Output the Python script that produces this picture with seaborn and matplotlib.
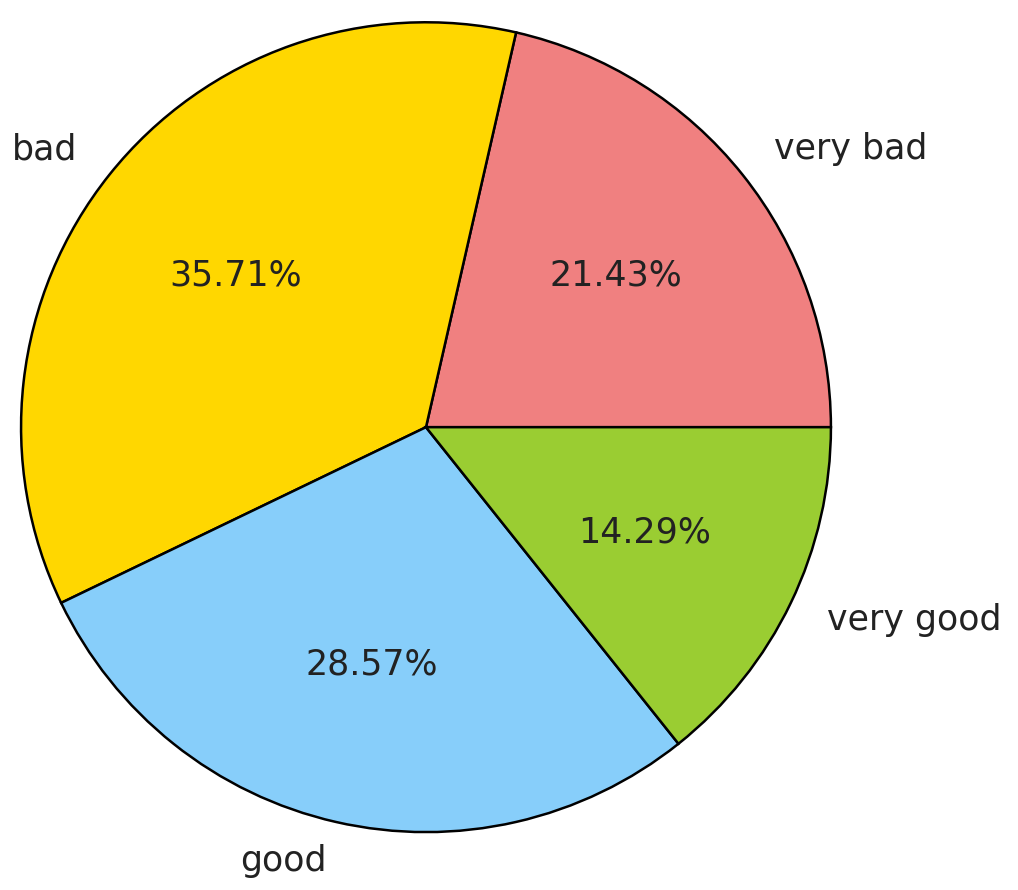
import seaborn as sns
from matplotlib import pyplot as plt

# slice data, in drawing order (counter-clockwise from 3 o'clock)
labels = ["very bad", "bad", "good", "very good"]
counts = [3, 5, 4, 2]
colors = ["lightcoral", "gold", "lightskyblue", "yellowgreen"]

sns.set_theme(style="white")
plt.rcParams["font.family"] = ["DejaVu Sans"]

fig = plt.figure(figsize=(10.18, 8.9), dpi=100)
ax = fig.add_axes([0, 0, 1, 1])

ax.pie(
    counts,
    labels=labels,
    colors=colors,
    autopct="%.2f%%",
    startangle=0,
    labeldistance=1.1,
    wedgeprops={"edgecolor": "black", "linewidth": 1.8},
    textprops={"fontsize": 25, "color": "#222222"},
)

# place the pie the way it sits in the picture (radius 1 -> ~405 px)
ax.set_xlim(-1.052, 1.462)
ax.set_ylim(-1.143, 1.055)
ax.set_aspect("auto")
ax.axis("off")

fig.savefig("out.png", dpi=100, facecolor="white")
